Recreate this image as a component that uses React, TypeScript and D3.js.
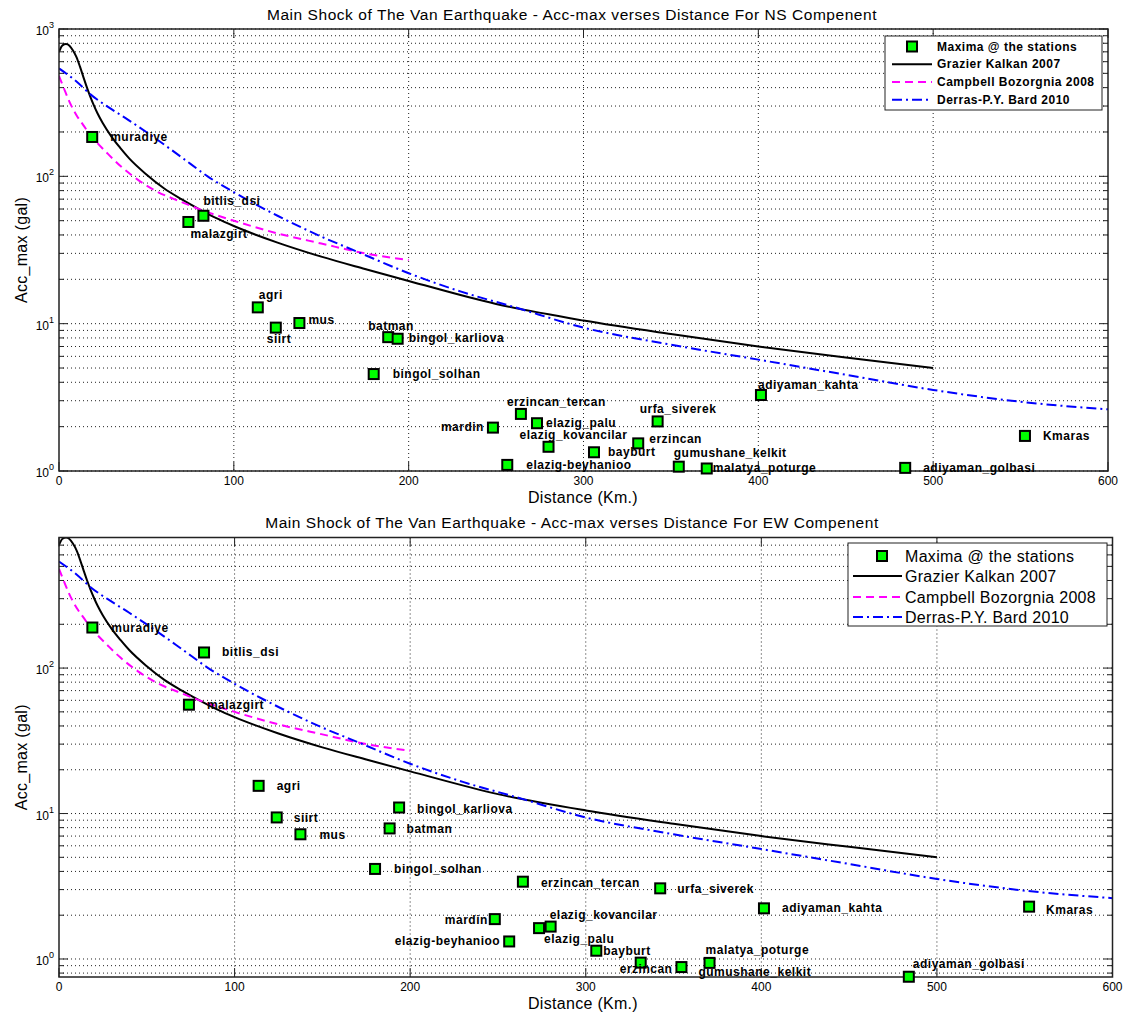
import React from "react"
import { curveMonotoneX, line, scaleLinear, scaleLog } from "d3"

// stations (same order in every array below)
const stations = [
  "muradiye", "malazgirt", "bitlis_dsi", "agri", "siirt", "mus", "batman",
  "bingol_karliova", "bingol_solhan", "erzincan_tercan", "elazig_palu", "mardin",
  "elazig_kovancilar", "elazig-beyhanioo", "bayburt", "urfa_siverek", "erzincan",
  "gumushane_kelkit", "malatya_poturge", "adiyaman_kahta", "adiyaman_golbasi", "Kmaras",
]
const distanceKm = [
  19, 74, 82.6, 113.7, 124, 137.5, 188.3, 193.7, 180, 264.2, 273.4, 248.2,
  280, 256.4, 306, 342.4, 331.3, 354.5, 370.5, 401.5, 484, 552.5,
]
const accNS = [
  185, 49, 54, 12.9, 9.4, 10.1, 8.1, 7.9, 4.55, 2.44, 2.11, 1.97,
  1.46, 1.1, 1.34, 2.17, 1.54, 1.07, 1.04, 3.28, 1.05, 1.73,
]
const accEW = [
  190, 56, 128, 15.5, 9.4, 7.2, 7.9, 11.0, 4.16, 3.4, 1.63, 1.88,
  1.67, 1.32, 1.14, 3.06, 0.944, 0.88, 0.94, 2.23, 0.755, 2.29,
]

// attenuation curves
const grazierDist = [0, 2, 4, 6, 8, 10, 12, 14, 16, 18, 20, 22, 25, 30, 35, 40, 50, 60, 70, 80, 90, 100, 125, 150, 175, 200, 250, 300, 350, 400, 450, 500]
const grazierAcc = [700, 775, 790, 770, 715, 645, 555, 470, 400, 345, 302, 268, 230, 186, 156, 133, 103, 83, 70, 60, 52, 46, 35.5, 28.5, 23.5, 19.5, 13.6, 10.5, 8.5, 7.0, 5.9, 5.0]
const campbellDist = [0, 3, 6, 10, 14, 18, 22, 28, 35, 45, 55, 70, 80, 100, 125, 150, 175, 200]
const campbellAcc = [480, 390, 320, 260, 222, 190, 168, 142, 118, 95, 80, 67, 60, 50, 41, 35, 30, 27]
const derrasDist = [0, 10, 18, 30, 40, 54, 70, 85, 100, 125, 150, 170, 200, 230, 260, 300, 350, 400, 450, 500, 550, 600]
const derrasAcc = [540, 440, 360, 286, 240, 185, 135, 100, 78, 54, 39, 31, 22, 16.5, 13, 9.4, 7.2, 5.7, 4.5, 3.55, 2.95, 2.62]

const xTicks = [0, 100, 200, 300, 400, 500, 600]
const legendNames = ["Maxima @ the stations", "Grazier Kalkan 2007", "Campbell Bozorgnia 2008", "Derras-P.Y. Bard 2010"]

// label placement around each marker: [dx, dy, anchor]
type Lbl = [number, number, "start" | "end"]
const labelsNS: Lbl[] = [
  [18, 0, "start"], [2, 12, "start"], [0, -15, "start"], [1, -12, "start"], [-9, 11, "start"],
  [9, -3, "start"], [-20, -11, "start"], [11, -1, "start"], [19, 0, "start"], [-14, -12, "start"],
  [9, 0, "start"], [-9, -1, "end"], [-29, -12, "start"], [19, 0, "start"], [14, 0, "start"],
  [-18, -12, "start"], [11, -4, "start"], [-5, -14, "start"], [6, 0, "start"], [-3, -10, "start"],
  [18, 0, "start"], [18, 0, "start"],
]
const labelsEW: Lbl[] = [
  [19, 0, "start"], [18, 0, "start"], [18, 0, "start"], [18, 0, "start"], [17, 1, "start"],
  [19, 1, "start"], [17, 1, "start"], [18, 1, "start"], [19, 0, "start"], [18, 1, "start"],
  [5, 11, "start"], [-7, 1, "end"], [-1, -12, "start"], [-9, 0, "end"], [7, 0, "start"],
  [17, 1, "start"], [-21, 6, "start"], [17, 5, "start"], [-4, -13, "start"], [18, 0, "start"],
  [4, -13, "start"], [17, 3, "start"],
]

const FONT = "'Liberation Sans', Arial, sans-serif"
const GREEN = "#00ff00"

type Box = { left: number; top: number; right: number; bottom: number }
type Legend = {
  x: number; y: number; w: number; h: number
  rows: number[]; x1: number; x2: number; mx: number; tx: number
  size: number; weight: string; spacing: number
}

const Panel = ({
  id, title, box, yDomain, values, labels, legend, titleY,
}: {
  id: string; title: string; box: Box; yDomain: [number, number]
  values: number[]; labels: Lbl[]; legend: Legend; titleY: number
}) => {
  const x = scaleLinear().domain([0, 600]).range([box.left, box.right])
  const y = scaleLog().domain(yDomain).range([box.bottom, box.top])
  const yTicks = y.ticks().filter((t) => t >= yDomain[0] && t <= yDomain[1])
  const isMajor = (t: number) => Math.abs(Math.log10(t) - Math.round(Math.log10(t))) < 1e-9

  const path = (ds: number[], vs: number[]) =>
    line<number>()
      .x((_, i) => x(ds[i]))
      .y((v) => y(v))
      .curve(curveMonotoneX)(vs) || ""

  const midY = (box.top + box.bottom) / 2

  return (
    <g>
      <defs>
        <clipPath id={`clip-${id}`}>
          <rect x={box.left} y={box.top} width={box.right - box.left} height={box.bottom - box.top} />
        </clipPath>
      </defs>

      {/* grid */}
      {yTicks.map((t) => (
        <line key={`gy${t}`} x1={box.left} x2={box.right} y1={y(t)} y2={y(t)}
          stroke="#222" strokeWidth={1} strokeDasharray="1,3" />
      ))}
      {xTicks.slice(1, -1).map((t) => (
        <line key={`gx${t}`} x1={x(t)} x2={x(t)} y1={box.top} y2={box.bottom}
          stroke="#222" strokeWidth={1} strokeDasharray="1,3" />
      ))}

      {/* ticks */}
      {yTicks.map((t) => {
        const len = isMajor(t) ? 9 : 5
        return (
          <g key={`ty${t}`} stroke="#222" strokeWidth={1}>
            <line x1={box.left} x2={box.left + len} y1={y(t)} y2={y(t)} />
            <line x1={box.right} x2={box.right - len} y1={y(t)} y2={y(t)} />
          </g>
        )
      })}
      {xTicks.map((t) => (
        <g key={`tx${t}`} stroke="#222" strokeWidth={1}>
          <line x1={x(t)} x2={x(t)} y1={box.bottom} y2={box.bottom - 9} />
          <line x1={x(t)} x2={x(t)} y1={box.top} y2={box.top + 9} />
        </g>
      ))}

      {/* curves */}
      <g clipPath={`url(#clip-${id})`} fill="none">
        <path d={path(grazierDist, grazierAcc)} stroke="#000" strokeWidth={2} />
        <path d={path(campbellDist, campbellAcc)} stroke="#ff00ff" strokeWidth={2} strokeDasharray="8,5" />
        <path d={path(derrasDist, derrasAcc)} stroke="#0000ff" strokeWidth={2} strokeDasharray="10,4,2,4" />
      </g>

      {/* frame */}
      <rect x={box.left} y={box.top} width={box.right - box.left} height={box.bottom - box.top}
        fill="none" stroke="#222" strokeWidth={1.5} />

      {/* stations */}
      {values.map((v, i) => (
        <rect key={`m${i}`} x={x(distanceKm[i]) - 5} y={y(v) - 5} width={10} height={10}
          fill={GREEN} stroke="#000" strokeWidth={2} />
      ))}
      {values.map((v, i) => {
        const [dx, dy, anchor] = labels[i]
        return (
          <text key={`l${i}`} x={x(distanceKm[i]) + dx} y={y(v) + dy} textAnchor={anchor}
            dominantBaseline="central" fontFamily={FONT} fontSize={12} fontWeight="bold"
            letterSpacing={0.5} fill="#000">
            {stations[i]}
          </text>
        )
      })}

      {/* tick labels */}
      {xTicks.map((t) => (
        <text key={`xl${t}`} x={x(t)} y={box.bottom + 10} textAnchor="middle"
          dominantBaseline="central" fontFamily={FONT} fontSize={12} fill="#000">
          {t}
        </text>
      ))}
      {yTicks.filter(isMajor).map((t) => (
        <text key={`yl${t}`} x={box.left - 5} y={y(t) + 2} textAnchor="end"
          dominantBaseline="central" fontFamily={FONT} fontSize={12} fill="#000">
          10
          <tspan dy={-6} fontSize={9}>{Math.round(Math.log10(t))}</tspan>
        </text>
      ))}

      {/* titles */}
      <text x={572} y={titleY} textAnchor="middle" dominantBaseline="central"
        fontFamily={FONT} fontSize={15.5} letterSpacing={0.55} fill="#000">
        {title}
      </text>
      <text x={583} y={box.bottom + 26} textAnchor="middle" dominantBaseline="central"
        fontFamily={FONT} fontSize={16} letterSpacing={0.3} fill="#000">
        Distance (Km.)
      </text>
      <text transform={`translate(21,${midY}) rotate(-90)`} textAnchor="middle"
        dominantBaseline="central" fontFamily={FONT} fontSize={16} letterSpacing={0.3} fill="#000">
        Acc_max (gal)
      </text>

      {/* legend */}
      <rect x={legend.x} y={legend.y} width={legend.w} height={legend.h}
        fill="#fff" stroke="#222" strokeWidth={1} />
      <rect x={legend.mx - 5} y={legend.rows[0] - 5} width={10} height={10}
        fill={GREEN} stroke="#000" strokeWidth={2} />
      <line x1={legend.x1} x2={legend.x2} y1={legend.rows[1]} y2={legend.rows[1]} stroke="#000" strokeWidth={2} />
      <line x1={legend.x1} x2={legend.x2} y1={legend.rows[2]} y2={legend.rows[2]} stroke="#ff00ff" strokeWidth={2} strokeDasharray="8,5" />
      <line x1={legend.x1} x2={legend.x2} y1={legend.rows[3]} y2={legend.rows[3]} stroke="#0000ff" strokeWidth={2} strokeDasharray="10,4,2,4" />
      {legendNames.map((n, i) => (
        <text key={n} x={legend.tx} y={legend.rows[i]} dominantBaseline="central"
          fontFamily={FONT} fontSize={legend.size} fontWeight={legend.weight}
          letterSpacing={legend.spacing} fill="#000">
          {n}
        </text>
      ))}
    </g>
  )
}

const App = () => (
  <svg width={1126} height={1013} style={{ position: "absolute", left: 0, top: 0, background: "#fff" }}>
    <rect width={1126} height={1013} fill="#fff" />
    <Panel
      id="ns"
      title="Main Shock of The Van Earthquake - Acc-max verses Distance For NS Compenent"
      titleY={14}
      box={{ left: 59, top: 29, right: 1108, bottom: 471 }}
      yDomain={[1, 1000]}
      values={accNS}
      labels={labelsNS}
      legend={{ x: 885, y: 36, w: 217, h: 74, rows: [46.5, 64.3, 82, 99.7], x1: 892, x2: 932, mx: 912, tx: 937, size: 12, weight: "bold", spacing: 0.5 }}
    />
    <Panel
      id="ew"
      title="Main Shock of The Van Earthquake - Acc-max verses Distance For EW Compenent"
      titleY={522}
      box={{ left: 59, top: 537.5, right: 1112.5, bottom: 977 }}
      yDomain={[0.752, 790]}
      values={accEW}
      labels={labelsEW}
      legend={{ x: 848, y: 543, w: 259, h: 83, rows: [556, 576, 597, 617], x1: 853, x2: 902, mx: 882, tx: 905, size: 16, weight: "normal", spacing: 0.3 }}
    />
  </svg>
)

export default App
